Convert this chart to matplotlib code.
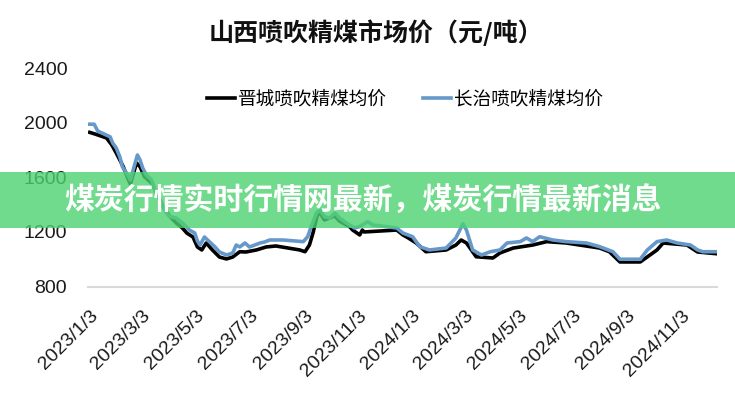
import matplotlib
matplotlib.use("Agg")
import matplotlib.pyplot as plt
import matplotlib.dates as mdates
from matplotlib.patches import Rectangle
import pandas as pd

title = "山西喷吹精煤市场价（元/吨）"
banner = "煤炭行情实时行情网最新，煤炭行情最新消息"
jincheng_name = "晋城喷吹精煤均价"
changzhi_name = "长治喷吹精煤均价"

# 晋城 (black line): date, price
jincheng_dates = [
    "2023-01-03", "2023-01-09", "2023-01-22", "2023-01-28", "2023-02-02", "2023-02-10",
    "2023-02-15", "2023-02-18", "2023-02-25", "2023-03-01", "2023-03-06", "2023-03-14",
    "2023-03-20", "2023-03-27", "2023-04-04", "2023-04-11", "2023-04-18", "2023-04-23",
    "2023-04-30", "2023-05-05", "2023-05-10", "2023-05-15", "2023-05-22", "2023-05-30",
    "2023-06-07", "2023-06-14", "2023-06-22", "2023-06-29", "2023-07-11", "2023-07-22",
    "2023-08-02", "2023-08-29", "2023-09-04", "2023-09-09", "2023-09-13", "2023-09-18",
    "2023-09-21", "2023-09-26", "2023-10-08", "2023-10-13", "2023-10-25", "2023-10-28",
    "2023-11-05", "2023-11-08", "2023-11-10", "2023-12-17", "2023-12-24", "2023-12-30",
    "2024-01-08", "2024-01-19", "2024-02-11", "2024-02-22", "2024-02-28", "2024-03-05",
    "2024-03-16", "2024-04-04", "2024-04-12", "2024-04-27", "2024-05-19", "2024-06-04",
    "2024-06-26", "2024-08-03", "2024-08-14", "2024-08-26", "2024-09-18", "2024-09-29",
    "2024-10-07", "2024-10-14", "2024-11-10", "2024-11-22", "2024-12-14",
]
jincheng_values = [
    1930, 1918, 1889, 1838, 1779, 1678,
    1596, 1551, 1706, 1678, 1605, 1559,
    1486, 1385, 1312, 1266, 1229, 1192,
    1163, 1090, 1068, 1119, 1068, 1016,
    1002, 1016, 1055, 1053, 1068, 1090,
    1097, 1068, 1055, 1104, 1192, 1324,
    1340, 1288, 1317, 1280, 1236, 1214,
    1178, 1214, 1200, 1214, 1178, 1156,
    1119, 1055, 1068, 1104, 1141, 1119,
    1018, 1009, 1046, 1082, 1104, 1129,
    1119, 1082, 1055, 980, 980, 1031,
    1068, 1119, 1104, 1053, 1040,
]

# 长治 (blue line)
changzhi_dates = [
    "2023-01-03", "2023-01-08", "2023-01-12", "2023-01-17", "2023-01-26", "2023-01-29",
    "2023-02-02", "2023-02-06", "2023-02-09", "2023-02-15", "2023-02-18", "2023-02-26",
    "2023-03-01", "2023-03-04", "2023-03-08", "2023-03-14", "2023-03-18", "2023-03-23",
    "2023-03-31", "2023-04-04", "2023-04-11", "2023-04-18", "2023-04-26", "2023-05-02",
    "2023-05-05", "2023-05-08", "2023-05-13", "2023-05-19", "2023-05-25", "2023-05-30",
    "2023-06-07", "2023-06-14", "2023-06-18", "2023-06-22", "2023-06-28", "2023-07-03",
    "2023-07-09", "2023-07-15", "2023-07-20", "2023-07-26", "2023-08-10", "2023-09-02",
    "2023-09-07", "2023-09-11", "2023-09-17", "2023-09-21", "2023-09-26", "2023-10-02",
    "2023-10-08", "2023-10-13", "2023-10-21", "2023-10-30", "2023-11-05", "2023-11-14",
    "2023-11-20", "2023-12-17", "2023-12-24", "2024-01-04", "2024-01-12", "2024-01-23",
    "2024-02-11", "2024-02-22", "2024-03-01", "2024-03-05", "2024-03-12", "2024-03-22",
    "2024-04-01", "2024-04-12", "2024-04-20", "2024-05-05", "2024-05-12", "2024-05-19",
    "2024-05-27", "2024-06-11", "2024-06-26", "2024-07-19", "2024-08-03", "2024-08-18",
    "2024-08-26", "2024-09-18", "2024-09-26", "2024-10-07", "2024-10-18", "2024-10-30",
    "2024-11-14", "2024-11-22", "2024-11-28", "2024-12-14",
]
changzhi_values = [
    1990, 1990, 1940, 1925, 1898, 1852,
    1816, 1752, 1678, 1618, 1581, 1764,
    1728, 1669, 1618, 1581, 1508, 1434,
    1339, 1312, 1302, 1266, 1214, 1192,
    1134, 1104, 1163, 1126, 1090, 1053,
    1031, 1045, 1104, 1090, 1119, 1090,
    1104, 1119, 1126, 1141, 1141, 1129,
    1165, 1239, 1339, 1361, 1312, 1302,
    1339, 1302, 1266, 1229, 1239, 1275,
    1251, 1229, 1192, 1165, 1092, 1068,
    1082, 1156, 1260, 1214, 1068, 1031,
    1055, 1068, 1119, 1129, 1156, 1129,
    1165, 1141, 1129, 1119, 1092, 1055,
    1000, 1000, 1068, 1129, 1141, 1119,
    1104, 1068, 1055, 1055,
]

y_ticks = [800, 1200, 1600, 2000, 2400]
x_tick_dates = ["2023-01-03", "2023-03-03", "2023-05-03", "2023-07-03", "2023-09-03",
                "2023-11-03", "2024-01-03", "2024-03-03", "2024-05-03", "2024-07-03",
                "2024-09-03", "2024-11-03"]

cjk = ["Noto Sans CJK SC", "DejaVu Sans"]


def main():
    plt.rcParams["font.family"] = ["Liberation Sans", "DejaVu Sans"]

    fig = plt.figure(figsize=(7.35, 4.0), dpi=100)
    ax = fig.add_axes([88 / 735, 1 - 286.5 / 400, 629 / 735, 218.2 / 400])

    jc_x = pd.to_datetime(jincheng_dates)
    cz_x = pd.to_datetime(changzhi_dates)
    ax.plot(jc_x, jincheng_values, color="#000000", lw=2.6, label=jincheng_name,
            solid_joinstyle="round")
    ax.plot(cz_x, changzhi_values, color="#6699C9", lw=2.6, label=changzhi_name,
            solid_joinstyle="round")

    ax.set_ylim(800, 2400)
    ax.set_xlim(pd.Timestamp("2023-01-01"), pd.Timestamp("2024-12-14"))
    ax.set_yticks(y_ticks)

    ticks = pd.to_datetime(x_tick_dates)
    ax.set_xticks(ticks)
    ax.set_xticklabels([f"{t.year}/{t.month}/{t.day}" for t in ticks],
                       rotation=45, ha="right", va="top", rotation_mode="anchor")

    for s in ["top", "right", "left"]:
        ax.spines[s].set_visible(False)
    ax.spines["bottom"].set_color("#d9d9d9")
    ax.spines["bottom"].set_linewidth(1.5)
    ax.tick_params(axis="both", length=0, labelsize=14, colors="#1a1a1a")
    ax.tick_params(axis="y", pad=15)
    ax.tick_params(axis="x", pad=15)

    fig.text(376 / 735, 1 - 33 / 400, title, family=cjk, fontsize=18, fontweight="bold",
             ha="center", va="center", color="#111111")

    fig.legend(loc="center", bbox_to_anchor=(405 / 735, 0.75), ncol=2, frameon=False,
               prop={"family": cjk, "size": 13.4}, handlelength=1.5, handletextpad=0.2,
               columnspacing=1.9)

    # green banner laid across the chart
    fig.add_artist(Rectangle((0, 1 - 228 / 400), 1, 56.3 / 400, transform=fig.transFigure,
                             facecolor="#4cd26f", alpha=0.8, edgecolor="none", zorder=10))
    fig.text(363 / 735, 0.5, banner, family=cjk, fontsize=21.5, fontweight="bold",
             color="white", ha="center", va="center", zorder=11)

    fig.savefig("out.png", dpi=100)
    plt.close(fig)


if __name__ == "__main__":
    main()
